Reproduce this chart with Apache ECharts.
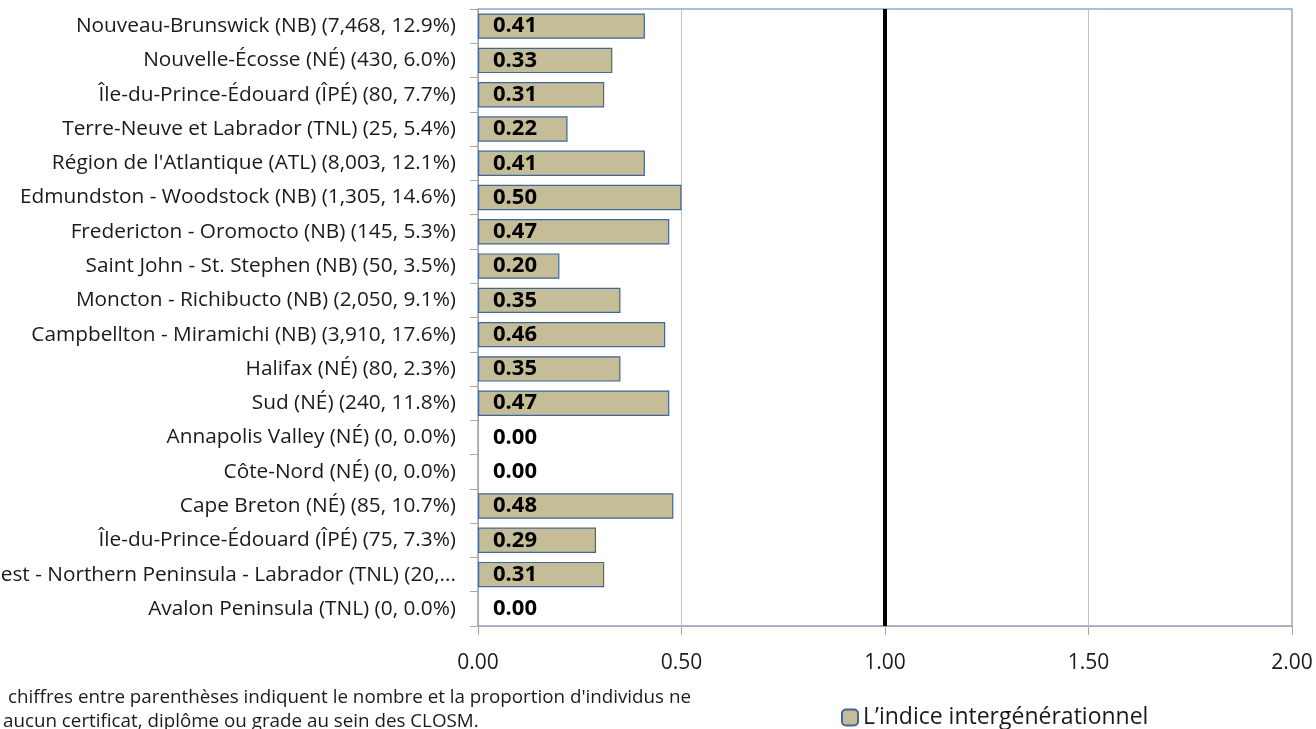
<!DOCTYPE html>
<html><head><meta charset="utf-8">
<script src="https://cdn.jsdelivr.net/npm/echarts@6/dist/echarts.min.js"></script>
<style>html,body{margin:0;padding:0;background:#fff}#c{width:1316px;height:729px}</style>
</head><body><div id="c"></div>
<script>
const categories = [
  "Nouveau-Brunswick (NB) (7,468, 12.9%)",
  "Nouvelle-Écosse (NÉ) (430, 6.0%)",
  "Île-du-Prince-Édouard (ÎPÉ) (80, 7.7%)",
  "Terre-Neuve et Labrador (TNL) (25, 5.4%)",
  "Région de l'Atlantique (ATL) (8,003, 12.1%)",
  "Edmundston - Woodstock (NB) (1,305, 14.6%)",
  "Fredericton - Oromocto (NB) (145, 5.3%)",
  "Saint John - St. Stephen (NB) (50, 3.5%)",
  "Moncton - Richibucto (NB) (2,050, 9.1%)",
  "Campbellton - Miramichi (NB) (3,910, 17.6%)",
  "Halifax (NÉ) (80, 2.3%)",
  "Sud (NÉ) (240, 11.8%)",
  "Annapolis Valley (NÉ) (0, 0.0%)",
  "Côte-Nord (NÉ) (0, 0.0%)",
  "Cape Breton (NÉ) (85, 10.7%)",
  "Île-du-Prince-Édouard (ÎPÉ) (75, 7.3%)",
  "Ouest - Northern Peninsula - Labrador (TNL) (20,...",
  "Avalon Peninsula (TNL) (0, 0.0%)"
];
const indexValues = [0.41,0.33,0.31,0.22,0.41,0.50,0.47,0.20,0.35,0.46,0.35,0.47,0.00,0.00,0.48,0.29,0.31,0.00];
const xTicks = [0, 0.5, 1.0, 1.5, 2.0];
const referenceValue = 1.0;
const seriesName = "L’indice intergénérationnel";
const footnote = [
  "chiffres entre parenthèses indiquent le nombre et la proportion d'individus ne",
  "aucun certificat, diplôme ou grade au sein des CLOSM."
];

const FONT = "'Open Sans', sans-serif";
const barData = indexValues.map(v => v === 0 ? {value:v, itemStyle:{borderWidth:0, color:'transparent'}} : v);
const chart = echarts.init(document.getElementById('c'), null, {renderer:'canvas'});
chart.setOption({
  animation:false,
  textStyle:{fontFamily:FONT},
  grid:{left:478, right:24, top:9, bottom:103, containLabel:false, outerBoundsMode:'none',
    show:true, borderColor:'#8EA9CF', borderWidth:1.5},
  xAxis:{type:'value', min:xTicks[0], max:xTicks[xTicks.length-1], interval:0.5,
    axisLine:{show:true, lineStyle:{color:'#A6A6A6', width:1}},
    axisTick:{show:true, length:9, lineStyle:{color:'#A6A6A6'}},
    splitLine:{show:true, lineStyle:{color:'#BFBFBF', width:1}},
    axisLabel:{formatter:v=>v.toFixed(2), fontSize:21, color:'#1a1a1a', margin:27, fontFamily:FONT}
  },
  yAxis:{type:'category', data:categories, inverse:true,
    axisLine:{show:true, lineStyle:{color:'#A6A6A6'}},
    axisTick:{show:true, length:8, lineStyle:{color:'#A6A6A6'}},
    axisLabel:{fontSize:20.8, color:'#1a1a1a', margin:22, fontFamily:FONT}
  },
  legend:{data:[seriesName], left:836, top:701, itemWidth:16, itemHeight:16, itemGap:6,
    textStyle:{fontSize:23, color:'#1a1a1a', fontFamily:FONT}},
  series:[{
    name:seriesName, type:'bar', data:barData, barCategoryGap:'26%',
    itemStyle:{color:'#C4BD97', borderColor:'#41669A', borderWidth:1.2},
    label:{show:true, position:'insideLeft', distance:15, formatter:p=>p.value.toFixed(2),
      fontSize:22, fontWeight:'bold', color:'#000', fontFamily:FONT},
    markLine:{silent:true, symbol:'none', label:{show:false},
      lineStyle:{color:'#000', width:4, type:'solid'},
      data:[{xAxis:referenceValue}]}
  }],
  graphic:[
    {type:'text', left:8, top:688, style:{text:footnote[0], fontSize:18.8, fill:'#1a1a1a', fontFamily:FONT}},
    {type:'text', left:3, top:712, style:{text:footnote[1], fontSize:18.8, fill:'#1a1a1a', fontFamily:FONT}}
  ]
});
</script></body></html>
